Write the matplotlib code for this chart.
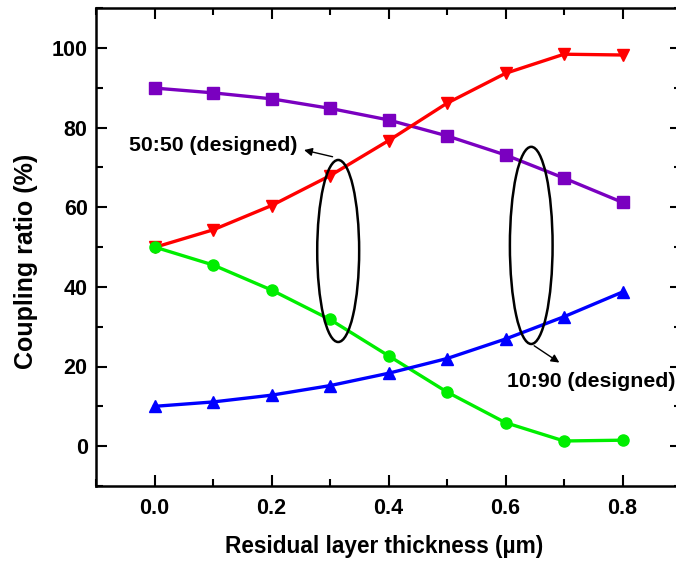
import matplotlib
matplotlib.use("Agg")
import matplotlib.pyplot as plt
from matplotlib.patches import Ellipse
from matplotlib.ticker import MultipleLocator

plt.rcParams['font.family'] = ['Liberation Sans', 'DejaVu Sans']
plt.rcParams['font.weight'] = 'bold'

thickness = [0.0, 0.1, 0.2, 0.3, 0.4, 0.5, 0.6, 0.7, 0.8]
ratio_9010_high = [89.9, 88.7, 87.2, 84.8, 81.9, 77.9, 73.1, 67.3, 61.2]
ratio_5050_high = [49.9, 54.3, 60.4, 67.9, 76.7, 86.1, 93.6, 98.4, 98.2]
ratio_5050_low = [50.0, 45.5, 39.2, 31.8, 22.7, 13.6, 5.9, 1.3, 1.5]
ratio_9010_low = [10.0, 11.1, 12.8, 15.2, 18.3, 22.0, 26.9, 32.5, 38.7]

fig = plt.figure(figsize=(6.76, 5.61), dpi=100)
ax = fig.add_axes([96 / 676, 1 - 486 / 561, (681 - 96) / 676, (486 - 8) / 561])

lw = 2.4
ax.plot(thickness, ratio_9010_high, color='#7a00c0', lw=lw, marker='s', ms=8, zorder=3)
ax.plot(thickness, ratio_5050_high, color='#ff0000', lw=lw, marker='v', ms=9, zorder=3)
ax.plot(thickness, ratio_5050_low, color='#00ee00', lw=lw, marker='o', ms=8, zorder=3)
ax.plot(thickness, ratio_9010_low, color='#0000ff', lw=lw, marker='^', ms=9, zorder=3)

# ellipses grouping the two designed splitters
ax.add_patch(Ellipse((0.314, 49.0), 0.0717, 45.7, fill=False, ec='black', lw=1.8, zorder=4))
ax.add_patch(Ellipse((0.644, 50.4), 0.073, 49.5, fill=False, ec='black', lw=1.8, zorder=4))

arrow = dict(arrowstyle='-|>', color='black', lw=1.0, mutation_scale=12)
ax.annotate('', xy=(0.251, 74.5), xytext=(0.309, 72.5),
            arrowprops=arrow, annotation_clip=False, zorder=5)
ax.text(0.244, 75.6, '50:50 (designed)', fontsize=15.3, fontweight='bold',
        ha='right', va='center')

ax.annotate('', xy=(0.696, 20.6), xytext=(0.645, 25.6),
            arrowprops=arrow, annotation_clip=False, zorder=5)
ax.text(0.890, 16.3, '10:90 (designed)', fontsize=15.3, fontweight='bold',
        ha='right', va='center', clip_on=False)

ax.set_xlim(-0.1, 0.9)
ax.set_ylim(-10, 110)
ax.xaxis.set_minor_locator(MultipleLocator(0.1))
ax.yaxis.set_minor_locator(MultipleLocator(10))
ax.set_xticks([0.0, 0.2, 0.4, 0.6, 0.8])
ax.set_xticklabels(['0.0', '0.2', '0.4', '0.6', '0.8'])
ax.set_yticks([0, 20, 40, 60, 80, 100])

ax.tick_params(which='both', direction='in', top=True, right=True, width=1.5)
ax.tick_params(which='major', length=8, labelsize=15.5)
ax.tick_params(which='minor', length=5)
ax.tick_params(axis='x', which='major', pad=9)
ax.tick_params(axis='y', which='major', pad=6)
for lab in ax.get_xticklabels() + ax.get_yticklabels():
    lab.set_fontweight('bold')
for sp in ax.spines.values():
    sp.set_linewidth(1.8)

ax.set_xlabel('Residual layer thickness (\u00b5m)', fontsize=16.3, fontweight='bold')
ax.set_ylabel('Coupling ratio (%)', fontsize=18, fontweight='bold')
ax.xaxis.set_label_coords(0.492, -0.102)
ax.yaxis.set_label_coords(-0.099, 0.469)

fig.savefig('out.png', dpi=100)
